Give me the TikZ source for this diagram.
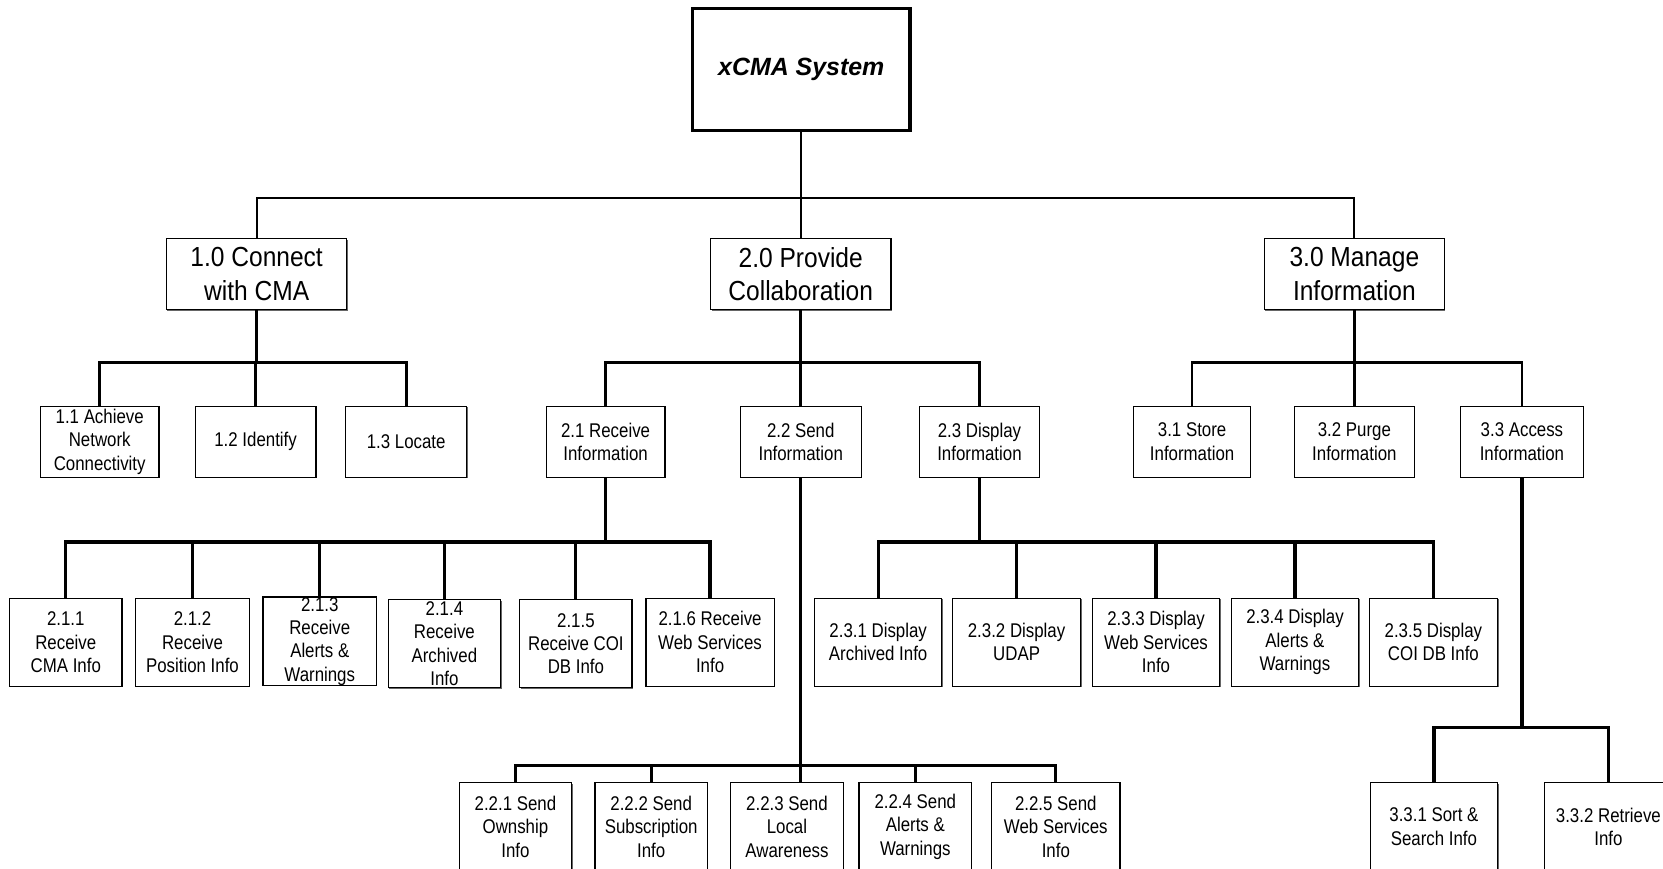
\documentclass[tikz,border=0pt]{standalone}
\usepackage{fontspec}
\setmainfont{Liberation Sans}
\newfontfamily\headsans[FakeStretch=0.89]{Liberation Sans}
\newfontfamily\itemsans[FakeStretch=0.85]{Liberation Sans}
\usetikzlibrary{shadows}
\begin{document}
\begin{tikzpicture}[x=1pt,y=-1pt,
  wbox/.style={draw, line width=1.2pt, fill=white, inner sep=0pt, align=center,
    general shadow={fill=black!60, shadow xshift=0.9pt, shadow yshift=-0.9pt}},
  rootbox/.style={draw, line width=3.4pt, fill=white, inner sep=0pt, align=center,
    minimum width=205pt, minimum height=115pt, font=\fontsize{23.5}{28}\selectfont\bfseries\itshape},
  lvone/.style={wbox, minimum width=170pt, minimum height=67pt, font=\headsans\fontsize{26}{32}\selectfont},
  lvtwo/.style={wbox, minimum height=67pt, font=\itemsans\fontsize{18.7}{22}\selectfont},
  lvthree/.style={wbox, minimum height=83pt, font=\itemsans\fontsize{18.7}{22}\selectfont},
  linkA/.style={line width=2pt},
  linkB/.style={line width=2.5pt},
  linkC/.style={line width=3pt},
]
\clip (0,0) rectangle (1568,819);
\fill[white] (0,0) rectangle (1568,819);

% bus levels
\coordinate (busTop) at (0,187);
\coordinate (busMid) at (0,342);
\coordinate (busLow) at (0,511);
\coordinate (busSend) at (0,722);
\coordinate (busAccess) at (0,686);

% root
\node[rootbox] (root) at (755.5,65.5) {xCMA System};

% first level
\node[lvone] (c1) at (242,258.5) {1.0 Connect\\with CMA};
\node[lvone] (c2) at (755,258.5) {2.0 Provide\\Collaboration};
\node[lvone] (c3) at (1277,258.5) {3.0 Manage\\Information};

% second level
\node[lvtwo, minimum width=112pt] (c11) at (94,416.5) {1.1 Achieve\\Network\\Connectivity};
\node[lvtwo, minimum width=114pt] (c12) at (241,416.5) {1.2 Identify};
\node[lvtwo, minimum width=114pt] (c13) at (383,416.5) {1.3 Locate};
\node[lvtwo, minimum width=112pt] (c21) at (571,416.5) {2.1 Receive\\Information};
\node[lvtwo, minimum width=114pt] (c22) at (755,416.5) {2.2 Send\\Information};
\node[lvtwo, minimum width=113pt] (c23) at (923.5,416.5) {2.3 Display\\Information};
\node[lvtwo, minimum width=110pt] (c31) at (1124,416.5) {3.1 Store\\Information};
\node[lvtwo, minimum width=113pt] (c32) at (1277,416.5) {3.2 Purge\\Information};
\node[lvtwo, minimum width=116pt] (c33) at (1435,416.5) {3.3 Access\\Information};

% receive branch
\node[lvthree, minimum width=106pt] (c211) at (62,605.5) {2.1.1\\Receive\\CMA Info};
\node[lvthree, minimum width=107pt] (c212) at (181.5,605.5) {2.1.2\\Receive\\Position Info};
\node[lvthree, minimum width=107pt] (c213) at (301.5,604.5) {2.1.3\\Receive\\Alerts \&\\Warnings};
\node[lvthree, minimum width=106pt] (c214) at (419,607) {2.1.4\\Receive\\Archived\\Info};
\node[lvthree, minimum width=106pt] (c215) at (543,607) {2.1.5\\Receive COI\\DB Info};
\node[lvthree, minimum width=121pt] (c216) at (669.5,605.5) {2.1.6 Receive\\Web Services\\Info};

% display branch
\node[lvthree, minimum width=120pt] (c231) at (828,605.5) {2.3.1 Display\\Archived Info};
\node[lvthree, minimum width=121pt] (c232) at (958.5,605.5) {2.3.2 Display\\UDAP};
\node[lvthree, minimum width=120pt] (c233) at (1090,605.5) {2.3.3 Display\\Web Services\\Info};
\node[lvthree, minimum width=120pt] (c234) at (1221,605.5) {2.3.4 Display\\Alerts \&\\Warnings};
\node[lvthree, minimum width=121pt] (c235) at (1351.5,605.5) {2.3.5 Display\\COI DB Info};

% send branch
\node[lvthree, minimum width=106pt] (c221) at (486,779.5) {2.2.1 Send\\Ownship\\Info};
\node[lvthree, minimum width=106pt] (c222) at (614,779.5) {2.2.2 Send\\Subscription\\Info};
\node[lvthree, minimum width=106pt] (c223) at (742,779.5) {2.2.3 Send\\Local\\Awareness};
\node[lvthree, minimum width=106pt] (c224) at (863,779.5) {2.2.4 Send\\Alerts \&\\Warnings};
\node[lvthree, minimum width=121pt] (c225) at (995.5,779.5) {2.2.5 Send\\Web Services\\Info};

% access branch
\node[lvthree, minimum width=120pt] (c331) at (1352,779.5) {3.3.1 Sort \&\\Search Info};
\node[lvthree, minimum width=121pt] (c332) at (1516.5,779.5) {3.3.2 Retrieve\\Info};

% connectors
\foreach \k in {c1,c2,c3}
  \draw[linkA] (root.south) |- (\k.north |- busTop) -- (\k.north);

\foreach \k in {c11,c12,c13}
  \draw[linkB] (c1.south) |- (\k.north |- busMid) -- (\k.north);
\foreach \k in {c21,c22,c23}
  \draw[linkB] (c2.south) |- (\k.north |- busMid) -- (\k.north);
\foreach \k in {c31,c32,c33}
  \draw[linkB] (c3.south) |- (\k.north |- busMid) -- (\k.north);

\foreach \k in {c211,c212,c213,c214,c215,c216}
  \draw[linkC] (c21.south) |- (\k.north |- busLow) -- (\k.north);
\foreach \k in {c231,c232,c233,c234,c235}
  \draw[linkC] (c23.south) |- (\k.north |- busLow) -- (\k.north);

\foreach \k in {c221,c222,c224,c225}
  \draw[linkC] (c22.south) |- (\k.north |- busSend) -- (\k.north);
\draw[linkC] (c22.south) -- (c22.south |- c223.north);

\foreach \k in {c331,c332}
  \draw[linkC] (c33.south) |- (\k.north |- busAccess) -- (\k.north);
\end{tikzpicture}
\end{document}
